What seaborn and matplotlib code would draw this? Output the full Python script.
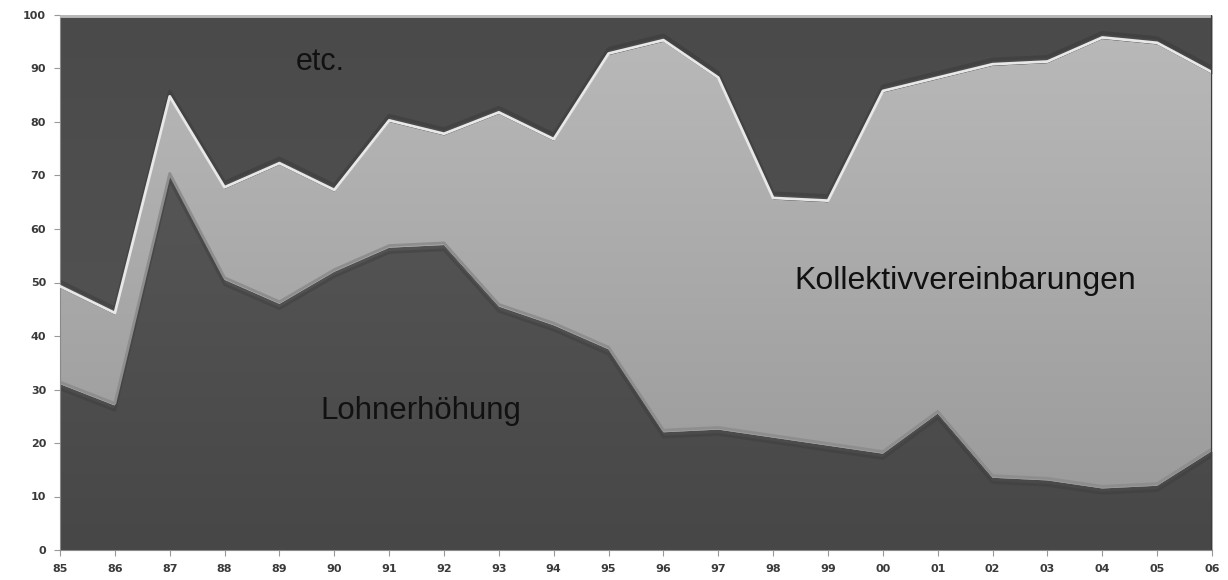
import numpy as np
import pandas as pd
import matplotlib
matplotlib.use("Agg")
import matplotlib.pyplot as plt
from matplotlib.colors import LinearSegmentedColormap
import seaborn as sns

years = ["85", "86", "87", "88", "89", "90", "91", "92", "93", "94", "95",
         "96", "97", "98", "99", "00", "01", "02", "03", "04", "05", "06"]
lohnerhoehung = [31, 27, 70, 50.5, 46, 52, 56.5, 57, 45.5, 42, 37.5,
                 22, 22.5, 21, 19.5, 18, 25.5, 13.5, 13, 11.5, 12, 18.5]
kollektiv = [18, 17, 14.5, 17, 26, 15, 23.5, 20.5, 36, 34.5, 55,
             73, 65.5, 44.5, 45.5, 67.5, 62.5, 77, 78, 84, 82.5, 70.5]
etc = [51, 56, 15.5, 32.5, 28, 33, 20, 22.5, 18.5, 23.5, 7.5,
       5, 12, 34.5, 35, 14.5, 12, 9.5, 9, 4.5, 5.5, 11]
yticks = [0, 10, 20, 30, 40, 50, 60, 70, 80, 90, 100]

df = pd.DataFrame({"year": years, "Lohnerhöhung": lohnerhoehung,
                   "Kollektivvereinbarungen": kollektiv, "etc.": etc})
df["x"] = np.arange(len(years))
df["top1"] = df["Lohnerhöhung"]
df["top2"] = df["Lohnerhöhung"] + df["Kollektivvereinbarungen"]

sns.set_theme(style="white")
plt.rcParams["font.family"] = ["Liberation Sans", "DejaVu Sans"]

W, H = 1228, 580
fig = plt.figure(figsize=(W / 100, H / 100), dpi=100)
x0, x1, ytop, ybot = 60, 1212, 15, 550
ax = fig.add_axes([x0 / W, (H - ybot) / H, (x1 - x0) / W, (ybot - ytop) / H])

polys = ax.stackplot(df["x"], df["Lohnerhöhung"], df["Kollektivvereinbarungen"], df["etc."],
                     colors=["#525252", "#a8a8a8", "#4e4e4e"], linewidth=0, zorder=1)

# vertical gradients clipped to each layer (top colour, bottom colour)
grads = [("#5c5c5c", "#474747"), ("#bababa", "#989898"), ("#4a4a4a", "#575757")]
nx = len(years) - 1
for poly, (ctop, cbot) in zip(polys, grads):
    cmap = LinearSegmentedColormap.from_list("g", [cbot, ctop])
    im = ax.imshow(np.linspace(0, 1, 256).reshape(-1, 1), cmap=cmap, aspect="auto",
                   extent=[0, nx, 0, 100], origin="lower", zorder=1.5, interpolation="bilinear")
    im.set_clip_path(poly.get_paths()[0], ax.transData)

# bevel-like edges
sns.lineplot(x=df["x"], y=df["top2"] + 1.2, ax=ax, color="#2e2e2e", lw=2.5, alpha=0.3, zorder=2.5)
sns.lineplot(x=df["x"], y=df["top2"] + 0.3, ax=ax, color="#e8e8e8", lw=2.0, zorder=3)
sns.lineplot(x=df["x"], y=df["top1"] - 0.9, ax=ax, color="#3a3a3a", lw=2.0, alpha=0.4, zorder=2.5)
sns.lineplot(x=df["x"], y=df["top1"] + 0.4, ax=ax, color="#8e8e8e", lw=2.0, zorder=3)

ax.set_xlim(0, nx)
ax.set_ylim(0, 100)
ax.set_xticks(df["x"])
ax.set_xticklabels(years)
ax.set_yticks(yticks)
ax.set_yticklabels([str(v) for v in yticks])
ax.set_xlabel("")
ax.set_ylabel("")

for lab in ax.get_xticklabels() + ax.get_yticklabels():
    lab.set_fontfamily("DejaVu Sans")
    lab.set_fontsize(8)
    lab.set_fontweight("bold")
    lab.set_color("#3a3a3a")

ax.tick_params(axis="both", which="both", length=4, width=0.8, color="#999999",
               bottom=True, left=True, pad=6)
for side in ["top", "right"]:
    ax.spines[side].set_visible(False)
for side in ["left", "bottom"]:
    ax.spines[side].set_color("#8a8a8a")
    ax.spines[side].set_linewidth(0.8)

ax.axhline(100, color="#b8b8b8", lw=3.5, zorder=4)
ax.axvline(nx, color="#3c3c3c", lw=1.5, zorder=4)

ax.text(4.74, 91.2, "etc.", fontsize=22, color="#111111", ha="center", va="center", zorder=5)
ax.text(6.58, 25.9, "Lohnerhöhung", fontsize=22.5, color="#111111", ha="center", va="center", zorder=5)
ax.text(16.5, 50.3, "Kollektivvereinbarungen", fontsize=23, color="#111111", ha="center", va="center", zorder=5)

fig.savefig("out.png", dpi=100, facecolor="white")
